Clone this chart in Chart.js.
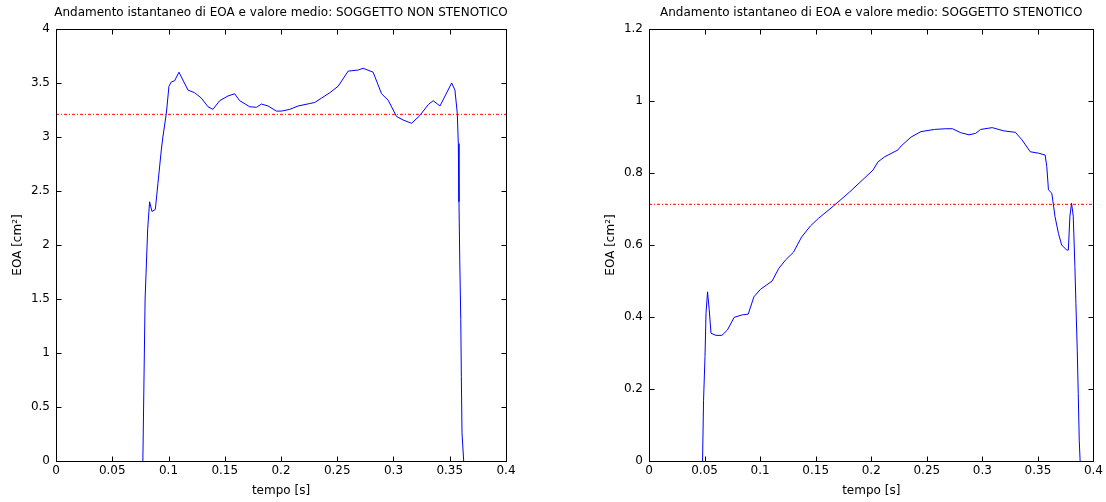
<!DOCTYPE html>
<html>
<head>
<meta charset="utf-8">
<script src="https://cdn.jsdelivr.net/npm/chart.js@4.4.1/dist/chart.umd.min.js"></script>
<style>
  html, body { margin: 0; padding: 0; background: #fff; }
  #wrap { position: relative; width: 1106px; height: 502px; }
  canvas { position: absolute; top: 0; }
</style>
</head>
<body>
<div id="wrap">
  <canvas id="nonStenotic" width="593" height="502" style="left:0"></canvas>
  <canvas id="stenotic" width="513" height="502" style="left:593px"></canvas>
</div>
<script>
// tick positions shared by both panels
const xTicks = [0, 0.05, 0.1, 0.15, 0.2, 0.25, 0.3, 0.35, 0.4];
const yTicksNS = [0, 0.5, 1, 1.5, 2, 2.5, 3, 3.5, 4];
const yTicksS = [0, 0.2, 0.4, 0.6, 0.8, 1, 1.2];

// non stenotic subject: time [s] and EOA [cm^2]
const tNS = [0.0772, 0.0792, 0.0815, 0.0832, 0.0853, 0.0883, 0.0906, 0.0936, 0.0950, 0.0981,
  0.1004, 0.1025, 0.1054, 0.1093, 0.1173, 0.1232, 0.1292, 0.1351, 0.1395, 0.1455,
  0.1529, 0.1588, 0.1633, 0.1722, 0.1782, 0.1826, 0.1885, 0.1959, 0.2004, 0.2078,
  0.2152, 0.2256, 0.2300, 0.2360, 0.2434, 0.2508, 0.2597, 0.2686, 0.2730, 0.2819,
  0.2894, 0.2953, 0.3027, 0.3086, 0.3161, 0.3235, 0.3309, 0.3353, 0.3413, 0.3517,
  0.3546, 0.3567, 0.3576, 0.3582, 0.3589, 0.3598, 0.3603, 0.3609, 0.3624];
const eoaNS = [0, 1.5, 2.15, 2.40, 2.31, 2.33, 2.57, 2.88, 3.00, 3.22,
  3.47, 3.51, 3.52, 3.60, 3.435, 3.41, 3.36, 3.28, 3.256, 3.336,
  3.38, 3.40, 3.336, 3.28, 3.275, 3.305, 3.287, 3.24, 3.24, 3.256,
  3.287, 3.31, 3.32, 3.36, 3.41, 3.47, 3.61, 3.62, 3.636, 3.60,
  3.40, 3.34, 3.19, 3.157, 3.127, 3.20, 3.30, 3.336, 3.287, 3.50,
  3.435, 3.22, 2.94, 2.40, 1.86, 1.31, 0.78, 0.26, 0];
const meanNS = 3.21;

// stenotic subject: time [s] and EOA [cm^2]
const tS = [0.0482, 0.0491, 0.0504, 0.0513, 0.0527, 0.0542, 0.0558, 0.0602, 0.0656, 0.0706,
  0.0766, 0.0840, 0.0893, 0.0944, 0.1004, 0.1108, 0.1168, 0.1228, 0.1300, 0.1373,
  0.1453, 0.1525, 0.1659, 0.1808, 0.2016, 0.2061, 0.2121, 0.2240, 0.2269, 0.2359,
  0.2448, 0.2568, 0.2671, 0.2731, 0.2805, 0.2880, 0.2939, 0.2984, 0.3089, 0.3193,
  0.3297, 0.3357, 0.3431, 0.3506, 0.3565, 0.3580, 0.3595, 0.3625, 0.3640, 0.3654,
  0.3685, 0.3714, 0.3759, 0.3774, 0.3788, 0.3803, 0.3818, 0.3833, 0.3842, 0.3854,
  0.3863, 0.3872, 0.3880];
const eoaS = [0, 0.169, 0.29, 0.41, 0.47, 0.42, 0.355, 0.349, 0.349, 0.364,
  0.399, 0.406, 0.408, 0.456, 0.477, 0.50, 0.535, 0.558, 0.58, 0.622,
  0.653, 0.674, 0.708, 0.748, 0.808, 0.831, 0.845, 0.864, 0.875, 0.90,
  0.915, 0.921, 0.923, 0.923, 0.912, 0.906, 0.91, 0.921, 0.926, 0.917,
  0.913, 0.892, 0.859, 0.855, 0.85, 0.818, 0.753, 0.744, 0.711, 0.679,
  0.632, 0.60, 0.586, 0.586, 0.68, 0.716, 0.68, 0.54, 0.438, 0.308,
  0.188, 0.058, 0];
const meanS = 0.713;

const FONT = { family: '"DejaVu Sans", sans-serif', size: 12 };

// axes box with inward ticks on all four sides, plus the title
const boxPlugin = {
  id: 'box',
  afterDatasetsDraw(chart) {
    const { ctx, chartArea, scales } = chart;
    const l = Math.round(chartArea.left) + 0.5;
    const r = Math.round(chartArea.right) + 0.5;
    const t = Math.round(chartArea.top) + 0.5;
    const b = Math.round(chartArea.bottom) + 0.5;
    const len = 5;
    ctx.save();
    ctx.strokeStyle = '#000';
    ctx.lineWidth = 1;
    ctx.strokeRect(l, t, r - l, b - t);
    ctx.beginPath();
    scales.x.ticks.forEach(tk => {
      const px = Math.round(scales.x.getPixelForValue(tk.value)) + 0.5;
      ctx.moveTo(px, b); ctx.lineTo(px, b - len);
      ctx.moveTo(px, t); ctx.lineTo(px, t + len);
    });
    scales.y.ticks.forEach(tk => {
      const py = Math.round(scales.y.getPixelForValue(tk.value)) + 0.5;
      ctx.moveTo(l, py); ctx.lineTo(l + len, py);
      ctx.moveTo(r, py); ctx.lineTo(r - len, py);
    });
    ctx.stroke();
    ctx.fillStyle = '#000';
    ctx.font = '12px "DejaVu Sans", sans-serif';
    ctx.textAlign = 'center';
    ctx.textBaseline = 'alphabetic';
    ctx.fillText(chart.options.plugins.box.text, (chartArea.left + chartArea.right) / 2, 16);
    ctx.restore();
  }
};

function makeChart(id, title, t, eoa, mean, yTicks, padRight) {
  const curve = t.map((x, i) => ({ x: x, y: eoa[i] }));
  const meanLine = [{ x: xTicks[0], y: mean }, { x: xTicks[xTicks.length - 1], y: mean }];
  return new Chart(document.getElementById(id), {
    type: 'line',
    data: {
      datasets: [
        { data: meanLine, borderColor: 'rgb(255,0,0)', borderWidth: 1, borderDash: [3, 2, 1, 2], pointRadius: 0, order: 0 },
        { data: curve, borderColor: 'rgb(0,0,255)', borderWidth: 1, pointRadius: 0, tension: 0, order: 1 }
      ]
    },
    options: {
      responsive: false,
      animation: false,
      layout: { padding: { top: 29, left: 0, right: padRight, bottom: 0 } },
      plugins: {
        legend: { display: false },
        tooltip: { enabled: false },
        box: { text: title }
      },
      scales: {
        x: {
          type: 'linear',
          min: xTicks[0],
          max: xTicks[xTicks.length - 1],
          afterBuildTicks: s => { s.ticks = xTicks.map(v => ({ value: v })); },
          afterFit: s => { s.height = 41; },
          grid: { display: false, drawTicks: false },
          border: { display: false },
          ticks: { color: '#000', font: FONT, padding: 3, maxRotation: 0, autoSkip: false, callback: v => String(v) },
          title: { display: true, text: 'tempo [s]', color: '#000', font: FONT, padding: { top: 0, bottom: 4 } }
        },
        y: {
          type: 'linear',
          min: yTicks[0],
          max: yTicks[yTicks.length - 1],
          afterBuildTicks: s => { s.ticks = yTicks.map(v => ({ value: v })); },
          afterFit: s => { s.width = 56; },
          grid: { display: false, drawTicks: false },
          border: { display: false },
          ticks: { color: '#000', font: FONT, padding: 6, autoSkip: false, callback: v => String(v) },
          title: { display: true, text: 'EOA [cm²]', color: '#000', font: FONT, padding: { top: 11, bottom: 0 } }
        }
      }
    },
    plugins: [boxPlugin]
  });
}

makeChart('nonStenotic', 'Andamento istantaneo di EOA e valore medio: SOGGETTO NON STENOTICO',
  tNS, eoaNS, meanNS, yTicksNS, 87);
makeChart('stenotic', 'Andamento istantaneo di EOA e valore medio: SOGGETTO STENOTICO',
  tS, eoaS, meanS, yTicksS, 9);
</script>
</body>
</html>
